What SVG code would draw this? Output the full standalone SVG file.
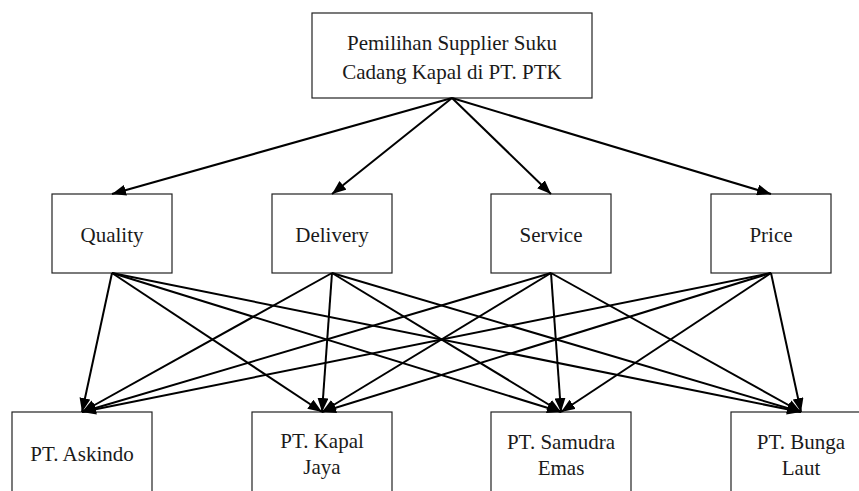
<svg xmlns="http://www.w3.org/2000/svg" width="859" height="491" viewBox="0 0 859 491">
<style>
.box{fill:#fff;stroke:#222;stroke-width:1.2}
.lbl{font-family:'Liberation Serif','DejaVu Serif',serif;font-size:21px;fill:#1a1a1a;text-anchor:middle}
.edge{stroke:#000;stroke-width:2;fill:none;marker-end:url(#ah)}
</style>
<defs>
<marker id="ah" markerUnits="userSpaceOnUse" markerWidth="15" markerHeight="11" refX="14" refY="5.5" orient="auto">
<path d="M0,0 L14,5.5 L0,11 z" fill="#000"/>
</marker>
</defs>
<rect width="859" height="491" fill="#fff"/>
<g id="goal">
<rect class="box" x="312" y="13" width="280" height="85"/>
<text class="lbl" font-family="Liberation Serif, serif" x="452" y="50">Pemilihan Supplier Suku</text>
<text class="lbl" font-family="Liberation Serif, serif" x="452" y="79">Cadang Kapal di PT. PTK</text>
</g>
<g id="quality">
<rect class="box" x="52" y="194" width="120" height="79"/>
<text class="lbl" x="112" y="242">Quality</text>
</g>
<g id="delivery">
<rect class="box" x="272" y="194" width="120" height="79"/>
<text class="lbl" x="332" y="242">Delivery</text>
</g>
<g id="service">
<rect class="box" x="491" y="194" width="120" height="79"/>
<text class="lbl" x="551" y="242">Service</text>
</g>
<g id="price">
<rect class="box" x="711" y="194" width="120" height="79"/>
<text class="lbl" x="771" y="242">Price</text>
</g>
<g id="askindo">
<rect class="box" x="12" y="412" width="140" height="100"/>
<text class="lbl" x="82" y="461">PT. Askindo</text>
</g>
<g id="kapaljaya">
<rect class="box" x="252" y="412" width="140" height="100"/>
<text class="lbl" x="322" y="448">PT. Kapal</text>
<text class="lbl" x="322" y="474">Jaya</text>
</g>
<g id="samudraemas">
<rect class="box" x="491" y="412" width="140" height="100"/>
<text class="lbl" x="561" y="449">PT. Samudra</text>
<text class="lbl" x="561" y="475">Emas</text>
</g>
<g id="bungalaut">
<rect class="box" x="731" y="412" width="140" height="100"/>
<text class="lbl" x="801" y="449">PT. Bunga</text>
<text class="lbl" x="801" y="475">Laut</text>
</g>
<g id="connectors">
<line class="edge" x1="452" y1="98" x2="112" y2="194"/>
<line class="edge" x1="452" y1="98" x2="332" y2="194"/>
<line class="edge" x1="452" y1="98" x2="551" y2="194"/>
<line class="edge" x1="452" y1="98" x2="771" y2="194"/>
<line class="edge" x1="112" y1="273" x2="82" y2="412"/>
<line class="edge" x1="112" y1="273" x2="322" y2="412"/>
<line class="edge" x1="112" y1="273" x2="561" y2="412"/>
<line class="edge" x1="112" y1="273" x2="801" y2="412"/>
<line class="edge" x1="332" y1="273" x2="82" y2="412"/>
<line class="edge" x1="332" y1="273" x2="322" y2="412"/>
<line class="edge" x1="332" y1="273" x2="561" y2="412"/>
<line class="edge" x1="332" y1="273" x2="801" y2="412"/>
<line class="edge" x1="551" y1="273" x2="82" y2="412"/>
<line class="edge" x1="551" y1="273" x2="322" y2="412"/>
<line class="edge" x1="551" y1="273" x2="561" y2="412"/>
<line class="edge" x1="551" y1="273" x2="801" y2="412"/>
<line class="edge" x1="771" y1="273" x2="82" y2="412"/>
<line class="edge" x1="771" y1="273" x2="322" y2="412"/>
<line class="edge" x1="771" y1="273" x2="561" y2="412"/>
<line class="edge" x1="771" y1="273" x2="801" y2="412"/>
</g>
</svg>
